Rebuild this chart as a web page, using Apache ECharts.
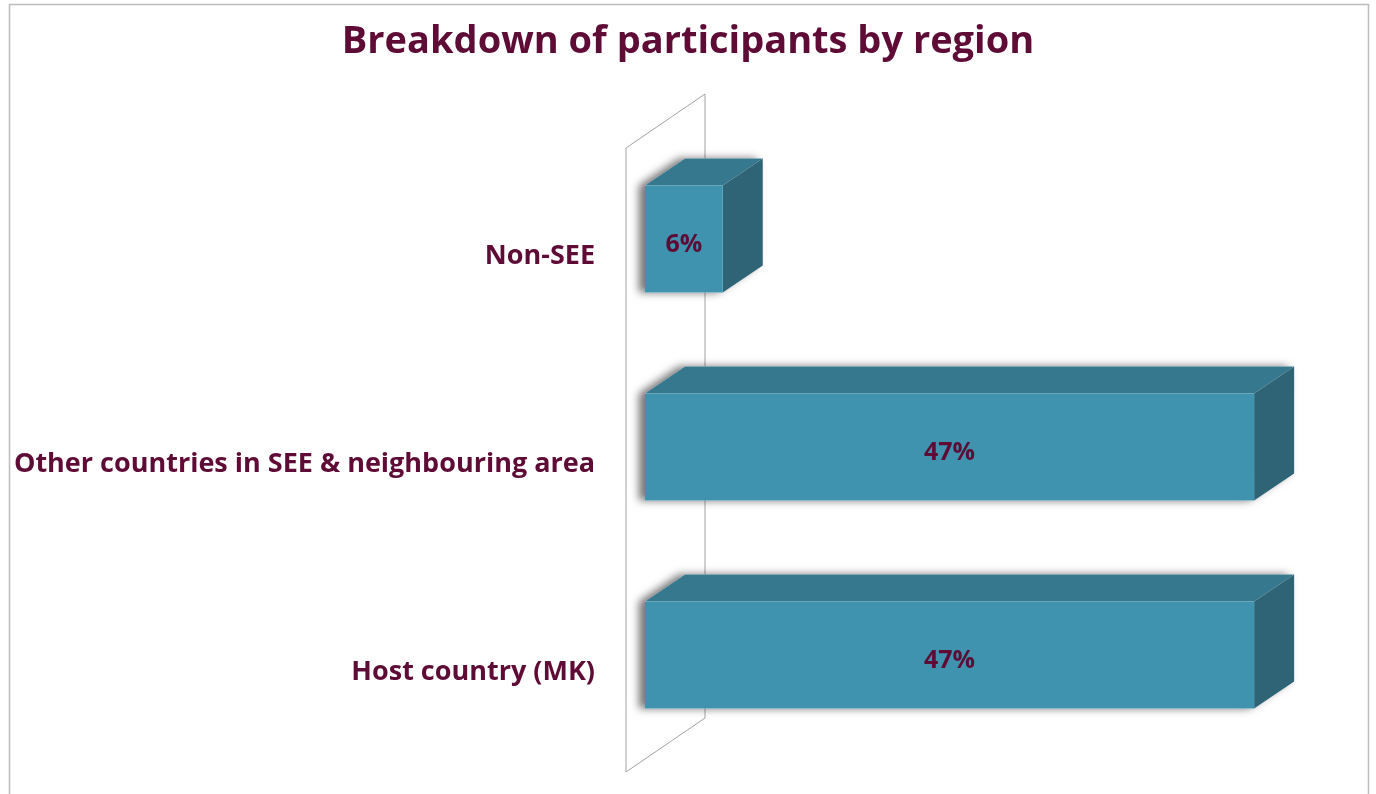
<!DOCTYPE html>
<html><head><meta charset="utf-8">
<script src="https://cdn.jsdelivr.net/npm/echarts@6/dist/echarts.min.js"></script>
<style>html,body{margin:0;padding:0;background:#fff}#c{width:1376px;height:794px}</style>
</head><body><div id="c"></div>
<script>
// ---- data ----
const categories = ['Host country (MK)', 'Other countries in SEE & neighbouring area', 'Non-SEE'];
const shares = [47, 47, 6];
const valueLabels = ['47%', '47%', '6%'];
const titleText = 'Breakdown of participants by region';

// ---- style ----
const FONT = '"Open Sans", Lato, sans-serif';
const MAROON = '#5E0B35';
const FRONT = '#3F93AE', TOP = '#36788E', SIDE = '#2F6376';
const DX = 40, DY = 27;    // bar depth projection
const WDX = 79, WDY = 54;  // wall depth projection
const WOX = 19, WOY = 13;  // bar front offset from wall front
const BAR_FRAC = 0.515;

const chart = echarts.init(document.getElementById('c'), null, {renderer: 'canvas'});

function renderWall(params, api) {
  const band = api.size([0, 1])[1];
  const bottomC = api.coord([0, 0]);
  const topC = api.coord([0, categories.length - 1]);
  const x = bottomC[0] - WOX;
  const yT = topC[1] - band / 2 + WOY;
  const yB = bottomC[1] + band / 2 + WOY;
  return {
    type: 'polygon',
    shape: {points: [[x, yB], [x, yT], [x + WDX, yT - WDY], [x + WDX, yB - WDY]]},
    style: {fill: '#fff', stroke: '#A3A3A3', lineWidth: 1}
  };
}

function renderBar(params, api) {
  const c = api.value(0), v = api.value(1);
  const p0 = api.coord([0, c]), p1 = api.coord([v, c]);
  const h = api.size([0, 1])[1] * BAR_FRAC;
  const x0 = p0[0], x1 = p1[0], yT = p0[1] - h / 2, yB = p0[1] + h / 2;
  const sil = [[x0, yB], [x0, yT], [x0 + DX, yT - DY], [x1 + DX, yT - DY], [x1 + DX, yB - DY], [x1, yB]];
  return {
    type: 'group',
    children: [
      {type: 'polygon', shape: {points: sil},
        style: {fill: '#fff', shadowBlur: 8, shadowOffsetX: -6, shadowOffsetY: 0, shadowColor: 'rgba(0,0,0,0.55)'}},
      {type: 'polygon', shape: {points: [[x0, yT], [x0 + DX, yT - DY], [x1 + DX, yT - DY], [x1, yT]]}, style: {fill: TOP}},
      {type: 'polygon', shape: {points: [[x1, yT], [x1 + DX, yT - DY], [x1 + DX, yB - DY], [x1, yB]]}, style: {fill: SIDE}},
      {type: 'rect', shape: {x: x0, y: yT, width: x1 - x0, height: yB - yT}, style: {fill: FRONT}},
      {type: 'text', x: (x0 + x1) / 2, y: (yT + yB) / 2 + 5.5,
        style: {text: valueLabels[params.dataIndex], fill: MAROON, font: 'bold 25px ' + FONT, align: 'center', verticalAlign: 'middle'}}
    ]
  };
}

chart.setOption({
  animation: false,
  backgroundColor: '#fff',
  title: {text: titleText, left: 'center', top: 18,
    textStyle: {fontFamily: FONT, fontWeight: 'bold', fontSize: 38, color: MAROON}},
  graphic: [{type: 'rect', shape: {x: 9.5, y: 4.5, width: 1359, height: 820},
    style: {fill: 'none', stroke: '#BDBDBD', lineWidth: 1.5}, silent: true}],
  grid: {left: 645, right: 83, top: 135, bottom: 35},
  xAxis: {type: 'value', min: 0, max: 50, show: false},
  yAxis: {type: 'category', data: categories,
    axisLine: {show: false}, axisTick: {show: false}, splitLine: {show: false},
    axisLabel: {margin: 50, color: MAROON, fontFamily: FONT, fontWeight: 'bold', fontSize: 27,
      verticalAlign: 'top', lineHeight: 35}},
  series: [
    {type: 'custom', renderItem: renderWall, data: [[0, 0]], encode: {x: 1, y: 0}, z: 1, clip: false, silent: true},
    {type: 'custom', renderItem: renderBar, data: shares.map((v, i) => [i, v]), encode: {x: 1, y: 0}, z: 2, clip: false}
  ]
});
</script></body></html>
